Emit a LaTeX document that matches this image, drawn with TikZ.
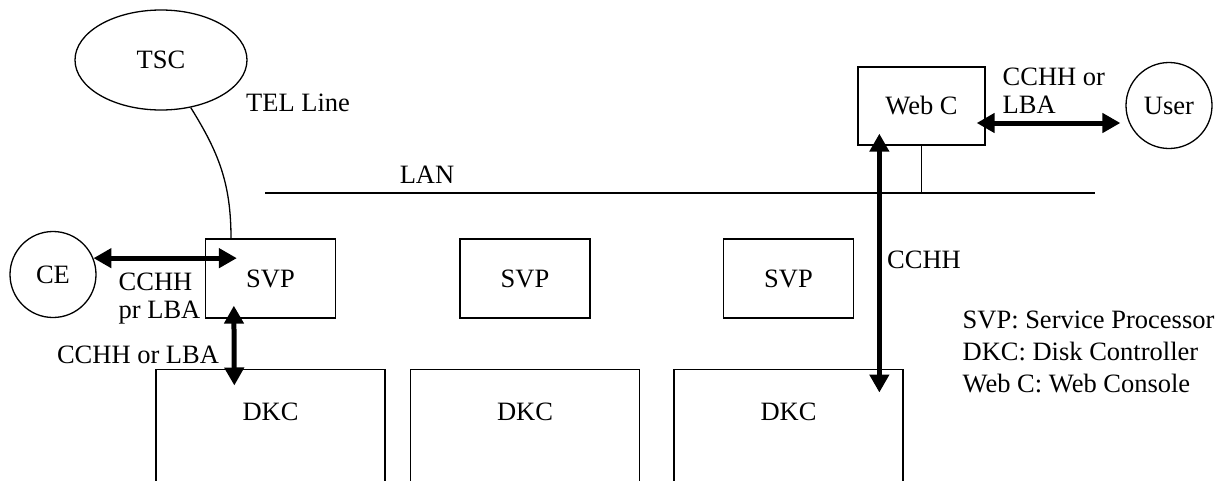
\documentclass[tikz,border=0pt]{standalone}
\usepackage{fontspec}
\setmainfont{Liberation Serif}
\usetikzlibrary{arrows.meta,shapes.geometric,calc}

\begin{document}
\begin{tikzpicture}[x=1pt, y=-1pt, line width=1.3pt,
    font=\fontsize{26.5}{28}\selectfont,
    svpbox/.style={draw, rectangle, minimum width=130pt, minimum height=79pt, inner sep=0pt},
    dkcbox/.style={draw, rectangle, anchor=north, minimum width=229pt, inner xsep=0pt, inner ysep=33.5pt, text depth=150pt},
    dblarrow/.style={line width=5pt, {Triangle[length=18pt,width=19pt]}-{Triangle[length=18pt,width=19pt]}},
    lbl/.style={anchor=north west, inner sep=0pt, align=left}]
  \useasboundingbox (0,0) rectangle (1225,480);
  \clip (0,0) rectangle (1225,480);

  % TSC
  \node[draw, ellipse, minimum width=172pt, minimum height=100pt, inner sep=0pt] (tsc) at (161,60) {TSC};
  \node (tel) at (298,103) {TEL Line};

  % LAN
  \coordinate (lanL) at (265,193);
  \coordinate (lanR) at (1095,193);
  \draw (lanL) -- (lanR);
  \node (lan) at (427,175) {LAN};

  % SVP + DKC
  \foreach \n/\x in {A/270.5, B/525, C/788.5} {
    \node[svpbox] (svp\n) at (\x,278.5) {SVP};
    \node[dkcbox] (dkc\n) at (\x,368.5) {DKC};
    \draw ($(svp\n.north)+(28,0)$) -- ($(svp\n.north)+(28,0)$ |- lanL);
    \draw ($(svp\n.south)+(-4,0)$) -- ($(svp\n.south)+(-4,0)$ |- dkc\n.north);
  }

  % Web C, User, CE
  \node[svpbox, minimum width=127pt, minimum height=78pt] (webc) at (921.5,106) {Web C};
  \node[draw, circle, minimum size=86pt, inner sep=0pt] (user) at (1169,105.5) {User};
  \draw (webc.south) -- (webc.south |- lanL);
  \node[draw, circle, minimum size=86pt, inner sep=0pt] (ce) at (53,274.5) {CE};

  % TEL line
  \draw (tsc.-58) .. controls ($(tsc.-58)+(28,45)$) and ($(svpA.north)+(-39.5,-55)$) .. ($(svpA.north)+(-39.5,0)$);

  % CCHH / LBA
  \draw[dblarrow] (ce.22) -- ($(ce.22 -| svpA.west)+(32,0)$);
  \node[lbl] (lblce) at (118,272) {CCHH\\pr LBA};
  \draw[dblarrow] ($(svpA.south west)+(29,-13)$) -- ($(dkcA.north west)+(79,17)$);
  \node (lbldkc) at (138,355) {CCHH or LBA};
  \draw[dblarrow] ($(webc.east)+(-9,17)$) -- ($(user.west)+(-5,17.5)$);
  \node[lbl] (lbluser) at (1002,67) {CCHH or\\LBA};
  \draw[dblarrow] ($(webc.south west)+(22,-12)$) -- ($(dkcC.north west)+(206,24)$);
  \node (lblcchh) at (924,260) {CCHH};

  % legend
  \node[lbl, font=\fontsize{26.5}{32}\selectfont] (legend) at (962,310) {SVP: Service Processor\\DKC: Disk Controller\\Web C: Web Console};
\end{tikzpicture}
\end{document}
